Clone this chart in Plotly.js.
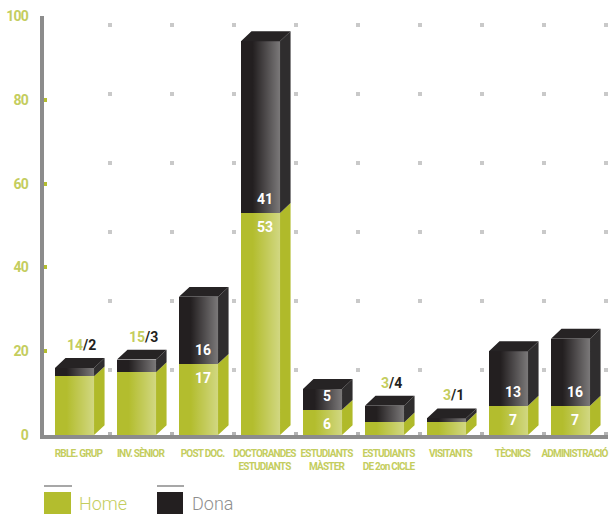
<!DOCTYPE html>
<html>
<head>
<meta charset="utf-8">
<script src="https://cdn.plot.ly/plotly-3.0.1.min.js"></script>
<style>
html,body{margin:0;padding:0;background:#fff;}
#chart{width:613px;height:517px;}
#chart .xtick text{letter-spacing:-0.8px;}
#chart .ytick text{letter-spacing:-0.7px;}
</style>
</head>
<body>
<div id="chart"></div>
<script>
// ---- data ----
const categories = ['RBLE. GRUP','INV. SÈNIOR','POST DOC.','DOCTORANDES<br>ESTUDIANTS','ESTUDIANTS<br>MÀSTER','ESTUDIANTS<br>DE 2on CICLE','VISITANTS','TÈCNICS','ADMINISTRACIÓ'];
const home = [14, 15, 17, 53, 6, 3, 3, 7, 7];
const dona = [2, 3, 16, 41, 5, 4, 1, 13, 16];
const yTicks = [0, 20, 40, 60, 80, 100];
const seriesNames = ['Home', 'Dona'];

// ---- style ----
const GREEN = '#b3bd2e';
const GREEN_SIDE = '#b0ba2a';
const GREEN_TXT = '#c4cd5e';
const DARK = '#231f20';
const DARK_SIDE = '#2f2d2e';
const DARK_TOP = '#262324';
const AXIS = '#8c8c8c';
const COND = 'Roboto, sans-serif';
const W = 0.63, DX = 0.17, DY = 2.35;

const idx = categories.map((_, i) => i);
const traces = [];

traces.push({type:'bar', x: idx, y: home, name: seriesNames[0], width: W,
  marker:{color: GREEN, line:{width:0}}, showlegend:false});
traces.push({type:'bar', x: idx, y: dona, name: seriesNames[1], width: W,
  marker:{color: DARK, line:{width:0}}, showlegend:false});

// 3D side and top faces derived from the data
const gsx=[], gsy=[], dsx=[], dsy=[], tx=[], ty=[];
idx.forEach(i => {
  const l = i - W/2, r = i + W/2, h = home[i], t = home[i] + dona[i];
  gsx.push(r, r+DX, r+DX, r, null); gsy.push(0, DY, h+DY, h, null);
  dsx.push(r, r+DX, r+DX, r, null); dsy.push(h, h+DY, t+DY, t, null);
  tx.push(l, l+DX, r+DX, r, null); ty.push(t, t+DY, t+DY, t, null);
});
const face = (x, y, c) => ({type:'scatter', x, y, mode:'lines', fill:'toself', fillcolor:c,
  line:{width:0, color:'rgba(0,0,0,0)'}, hoverinfo:'skip', showlegend:false});
traces.push(face(gsx, gsy, GREEN_SIDE));
traces.push(face(dsx, dsy, DARK_SIDE));
traces.push(face(tx, ty, DARK_TOP));

// gradient sheen on the front faces
idx.forEach(i => {
  const l = i - W/2 + 0.3*W, r = i + W/2, t = home[i] + dona[i];
  traces.push({type:'scatter', x:[l, r, r, l], y:[0, 0, t, t], mode:'lines', fill:'toself',
    line:{width:0, color:'rgba(0,0,0,0)'}, hoverinfo:'skip', showlegend:false,
    fillgradient:{type:'horizontal', colorscale:[[0,'rgba(255,255,255,0)'],[1,'rgba(255,255,255,0.4)']]}});
});

// value labels
const annotations = [];
idx.forEach(i => {
  const h = home[i], d = dona[i];
  if (d >= 5) {
    annotations.push({x: i+0.08, y: h, xref:'x', yref:'y', yanchor:'bottom', yshift:4, showarrow:false,
      text: String(d), font:{family: COND, size:14, color:'#ffffff', weight:'bold'}});
    annotations.push({x: i+0.08, y: h, xref:'x', yref:'y', yanchor:'top', yshift:-4, showarrow:false,
      text: String(h), font:{family: COND, size:14, color:'#ffffff', weight:'bold'}});
  } else {
    annotations.push({x: i+0.12, y: h+d+DY, xref:'x', yref:'y', yanchor:'bottom', yshift:3, showarrow:false,
      text: '<span style="color:'+GREEN_TXT+'">'+h+'</span>/'+d,
      font:{family: COND, size:14, color: DARK, weight:'bold'}});
  }
});

// legend (custom)
const px = v => (v - 44) / 564, py = v => (435 - v) / 419;
const shapes = [
  {type:'line', xref:'paper', yref:'paper', x0:px(44), x1:px(72), y0:py(486), y1:py(486), line:{color:'#8a8a8a', width:1.5}},
  {type:'rect', xref:'paper', yref:'paper', x0:px(44), x1:px(71), y0:py(514), y1:py(492), fillcolor: GREEN, line:{width:0}},
  {type:'line', xref:'paper', yref:'paper', x0:px(157), x1:px(184), y0:py(486), y1:py(486), line:{color:'#8a8a8a', width:1.5}},
  {type:'rect', xref:'paper', yref:'paper', x0:px(157), x1:px(183), y0:py(514), y1:py(492), fillcolor: DARK, line:{width:0}}
];
annotations.push({xref:'paper', yref:'paper', x:px(77), y:py(503), xanchor:'left', yanchor:'middle', showarrow:false,
  text: seriesNames[0], font:{family:'Roboto, sans-serif', size:18, color: GREEN_TXT, weight:300}});
annotations.push({xref:'paper', yref:'paper', x:px(190), y:py(503), xanchor:'left', yanchor:'middle', showarrow:false,
  text: seriesNames[1], font:{family:'Roboto, sans-serif', size:18, color:'#8e8e8e', weight:300}});

const layout = {
  width: 613, height: 517,
  margin: {l:44, r:5, t:16, b:82},
  paper_bgcolor:'#ffffff', plot_bgcolor:'#ffffff',
  barmode:'stack', showlegend:false,
  xaxis: {range:[-0.492, 8.605], tickmode:'array', tickvals: idx, ticktext: categories,
    showline:true, linecolor: AXIS, linewidth:4, ticks:'', showgrid:false, zeroline:false,
    tickfont:{family: COND, size:10, color: GREEN_TXT, weight:'bold'},
    ticklabelshift: 4, ticklabelstandoff: 6, ticklabeloverflow:'allow', tickangle:0,
    minor:{tickmode:'array', tickvals: idx.map(i => i + 0.573), ticks:'inside', ticklen:3, tickwidth:4,
      tickcolor:'#b4b4b4', showgrid:true, gridcolor:'#c9c9c9', gridwidth:4, griddash:'0px,7px,4px,58px'}},
  yaxis: {range:[0, 100], tickmode:'array', tickvals: yTicks, ticktext: yTicks.map(String),
    showline:true, linecolor: AXIS, linewidth:4, ticks:'inside', ticklen:3, tickwidth:4, tickcolor: GREEN,
    showgrid:false, zeroline:false, ticklabelstandoff: 9,
    tickfont:{family: COND, size:14, color: GREEN_TXT, weight:'bold'}},
  shapes, annotations
};

Plotly.newPlot('chart', traces, layout, {displayModeBar:false, staticPlot:true});
</script>
</body>
</html>
